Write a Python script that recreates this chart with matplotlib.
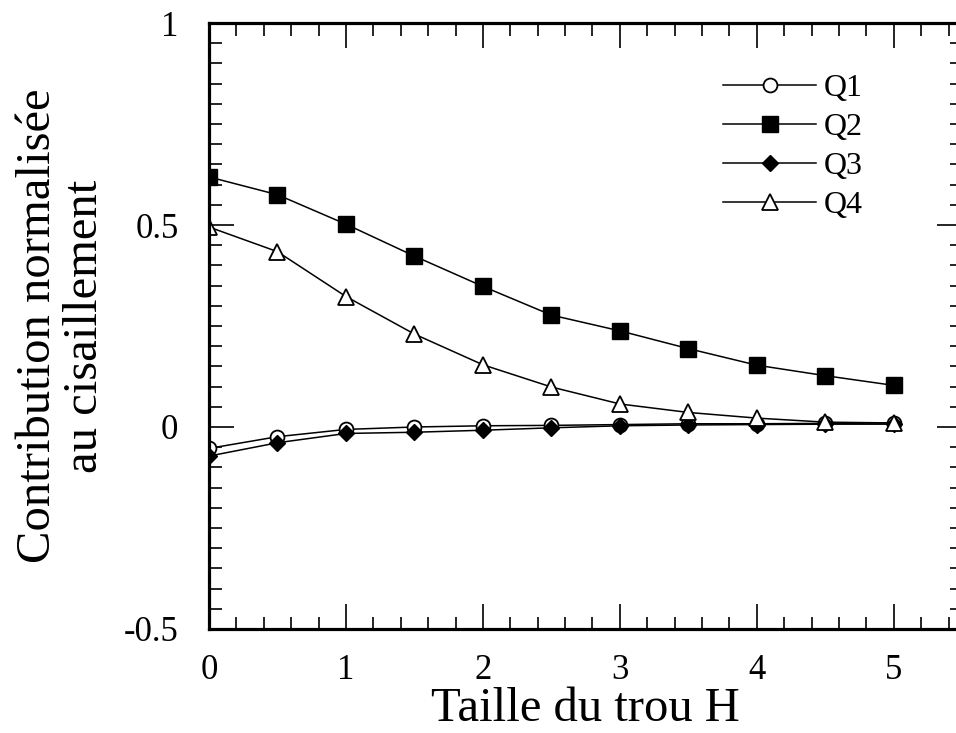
import numpy as np
import matplotlib.pyplot as plt
from matplotlib.ticker import MultipleLocator

plt.rcParams['font.family'] = ['Liberation Serif', 'DejaVu Serif']

# hole size H
taille = [0, 0.5, 1, 1.5, 2, 2.5, 3, 3.5, 4, 4.5, 5]

# normalised contribution of each quadrant to the shear stress
q1 = [-0.053, -0.024, -0.006, 0.000, 0.003, 0.004, 0.006, 0.008, 0.008, 0.009, 0.010]
q2 = [0.619, 0.575, 0.502, 0.423, 0.348, 0.277, 0.238, 0.194, 0.153, 0.127, 0.103]
q3 = [-0.072, -0.039, -0.016, -0.013, -0.008, -0.002, 0.003, 0.005, 0.006, 0.007, 0.007]
q4 = [0.495, 0.434, 0.323, 0.230, 0.154, 0.099, 0.057, 0.036, 0.022, 0.012, 0.010]

fig = plt.figure(figsize=(9.56, 7.33), dpi=100)
ax = fig.add_axes([0.2186, 0.1419, 0.788, 0.8267])

ax.plot(taille, q1, '-o', color='black', lw=1.1, ms=10, mfc='white', mec='black', mew=1.3, label='Q1')
ax.plot(taille, q2, '-s', color='black', lw=1.1, ms=12, mfc='black', mec='black', label='Q2')
ax.plot(taille, q3, '-D', color='black', lw=1.1, ms=8.5, mfc='black', mec='black', label='Q3')
ax.plot(taille, q4, '-^', color='black', lw=1.1, ms=11, mfc='white', mec='black', mew=1.3, label='Q4')

ax.set_xlim(0, 5.5)
ax.set_ylim(-0.5, 1)
ax.xaxis.set_major_locator(MultipleLocator(1))
ax.xaxis.set_minor_locator(MultipleLocator(0.2))
ax.yaxis.set_major_locator(MultipleLocator(0.5))
ax.yaxis.set_minor_locator(MultipleLocator(0.05))
ax.yaxis.set_major_formatter(plt.FuncFormatter(lambda v, p: f'{v:g}'))

ax.tick_params(which='both', direction='in', top=True, right=True,
               labelsize=25, width=1.2)
ax.tick_params(axis='x', which='both', pad=18)
ax.tick_params(axis='y', which='both', pad=22)
ax.tick_params(which='major', length=18)
ax.tick_params(which='minor', length=9)
for s in ax.spines.values():
    s.set_linewidth(2.3)

ax.set_xlabel('Taille du trou H', fontsize=35, labelpad=0)
ax.set_ylabel('Contribution normalisée\nau cisaillement', fontsize=35,
              linespacing=1.08, labelpad=12)

ax.legend(loc='upper right', bbox_to_anchor=(0.885, 0.937), frameon=False,
          fontsize=23, handlelength=2.9, handletextpad=0.25, labelspacing=0.3,
          borderaxespad=0)

fig.savefig('out.png', dpi=100)
